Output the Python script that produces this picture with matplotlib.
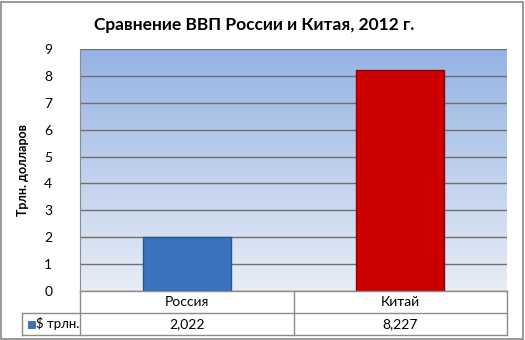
import numpy as np
import matplotlib.pyplot as plt
from matplotlib.patches import Rectangle
from matplotlib.lines import Line2D

countries = ['Россия', 'Китай']
gdp = [2.022, 8.227]
gdp_labels = ['2,022', '8,227']
bar_colors = ['#3b73bd', '#cc0000']
edge_colors = ['#2a5590', '#900000']
series_name = '$ трлн.'

plt.rcParams['font.family'] = ['Lato', 'DejaVu Sans']

W, H = 525, 340
fig = plt.figure(figsize=(W / 100, H / 100), dpi=100)
fig.patch.set_facecolor('white')

# outer border
fig.add_artist(Rectangle((1 / W, 1 / H), (W - 3) / W, (H - 3) / H, transform=fig.transFigure,
                         fill=False, edgecolor='#888888', lw=1.2))

left, right, top, bottom = 80, 507, 49, 291
ax = fig.add_axes([left / W, 1 - bottom / H, (right - left) / W, (bottom - top) / H])

# gradient background
grad = np.linspace(0, 1, 256).reshape(-1, 1)
top_c = np.array([0x95, 0xb3, 0xe3]) / 255
bot_c = np.array([0xe8, 0xed, 0xf6]) / 255
img = bot_c + grad * (top_c - bot_c)
ax.imshow(img[:, None, :].reshape(256, 1, 3), extent=[-0.5, 1.5, 0, 9], origin='lower',
          aspect='auto', zorder=0)

x = np.arange(len(countries))
ax.bar(x, gdp, width=0.41, color=bar_colors, edgecolor=edge_colors, linewidth=1, zorder=3)
ax.set_xlim(-0.5, 1.5)
ax.set_ylim(0, 9)
ax.set_yticks(range(10))
ax.yaxis.grid(True, color='#6f6f6f', lw=1, zorder=1)
ax.set_axisbelow(True)
ax.set_xticks([])
ax.tick_params(axis='y', length=0, pad=20, labelsize=10)
for s in ax.spines.values():
    s.set_visible(False)
ax.spines['left'].set_visible(True)
ax.spines['left'].set_color('#8c8c8c')
ax.set_ylabel('Трлн. долларов', fontsize=9, fontweight='bold', labelpad=11)

fig.text(0.5 - 0.015, 1 - 25 / H, 'Сравнение ВВП России и Китая, 2012 г.', ha='center', va='center',
         fontsize=12.5, fontweight='bold')

# data table below axes
row1, row2 = 313, 335
tl = 22
mid = (left + right) / 2
def fx(px):
    return px / W
def fy(py):
    return 1 - py / H
lc = '#8c8c8c'
lines = [
    ((left, right), (bottom, bottom)),
    ((tl, right), (row1, row1)),
    ((tl, right), (row2, row2)),
    ((left, left), (bottom, row2)),
    ((tl, tl), (row1, row2)),
    ((mid, mid), (bottom, row2)),
    ((right, right), (bottom, row2)),
]
for xs, ys in lines:
    fig.add_artist(Line2D([fx(v) for v in xs], [fy(v) for v in ys], transform=fig.transFigure,
                          color=lc, lw=1))

cell_centers = [(left + mid) / 2, (mid + right) / 2]
for cx, name, val in zip(cell_centers, countries, gdp_labels):
    fig.text(fx(cx), fy((bottom + row1) / 2), name, ha='center', va='center', fontsize=10)
    fig.text(fx(cx), fy((row1 + row2) / 2), val, ha='center', va='center', fontsize=10)

fig.add_artist(Rectangle((fx(28), fy(328)), 7 / W, 7 / H, transform=fig.transFigure,
                         facecolor=bar_colors[0], edgecolor='#2a5590', lw=0.5))
fig.text(fx(36), fy((row1 + row2) / 2), series_name, ha='left', va='center', fontsize=9.5)

fig.savefig('out.png', dpi=100)
